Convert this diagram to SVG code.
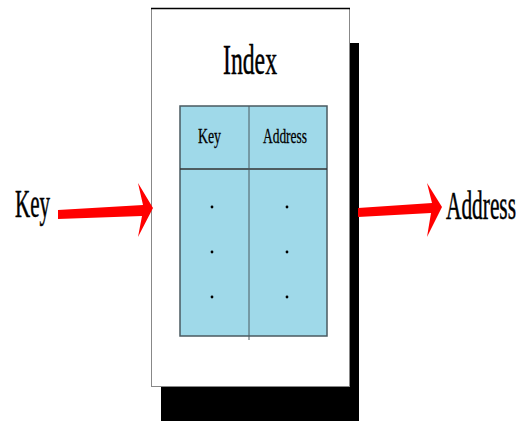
<svg xmlns="http://www.w3.org/2000/svg" width="522" height="422" viewBox="0 0 522 422">
<style>
.t{font-family:"Liberation Serif","DejaVu Serif",serif;fill:#000;stroke:#000;stroke-width:0.5}
.s{stroke-width:0.3}
.arrow{fill:#f00}
.cell{fill:#9fd9e9;stroke:#4a5a60;stroke-width:1.5}
.dot{fill:#000}
</style>
<rect width="522" height="422" fill="#fff"/>
<g id="index">
<rect x="161" y="43" width="198" height="378" fill="#000"/>
<rect x="151.5" y="8.5" width="198" height="378" fill="#fff" stroke="#888" stroke-width="1"/>
<line x1="151" y1="8.5" x2="350" y2="8.5" stroke="#000" stroke-width="1.5"/>
<text class="t" x="250" y="74" font-size="43" text-anchor="middle" textLength="54" lengthAdjust="spacingAndGlyphs">Index</text>
</g>
<g id="table">
<rect class="cell" x="180" y="106" width="147" height="230"/>
<line x1="180" y1="169" x2="327" y2="169" stroke="#333" stroke-width="1.5"/>
<line x1="249" y1="106" x2="249" y2="340" stroke="#4a5a60" stroke-width="1"/>
<text class="t s" x="209.5" y="143" font-size="22" text-anchor="middle" textLength="23" lengthAdjust="spacingAndGlyphs">Key</text>
<text class="t s" x="285" y="143" font-size="22" text-anchor="middle" textLength="44" lengthAdjust="spacingAndGlyphs">Address</text>
<circle class="dot" cx="212" cy="207" r="1.4"/>
<circle class="dot" cx="212" cy="252" r="1.4"/>
<circle class="dot" cx="212" cy="297" r="1.4"/>
<circle class="dot" cx="287" cy="207" r="1.4"/>
<circle class="dot" cx="287" cy="252" r="1.4"/>
<circle class="dot" cx="287" cy="297" r="1.4"/>
</g>
<g id="key-label">
<text class="t" x="15" y="217" font-size="39" textLength="35" lengthAdjust="spacingAndGlyphs">Key</text>
</g>
<g id="address-label">
<text class="t" x="446" y="219" font-size="39" textLength="70" lengthAdjust="spacingAndGlyphs">Address</text>
</g>
<g id="connectors">
<polygon class="arrow" points="58,210 143,205 138,183 153,208 138,237 142,216 58,219"/>
<polygon class="arrow" points="358,208 432,203 427,183 442,207 427,237 431,213 358,217"/>
</g>
</svg>
